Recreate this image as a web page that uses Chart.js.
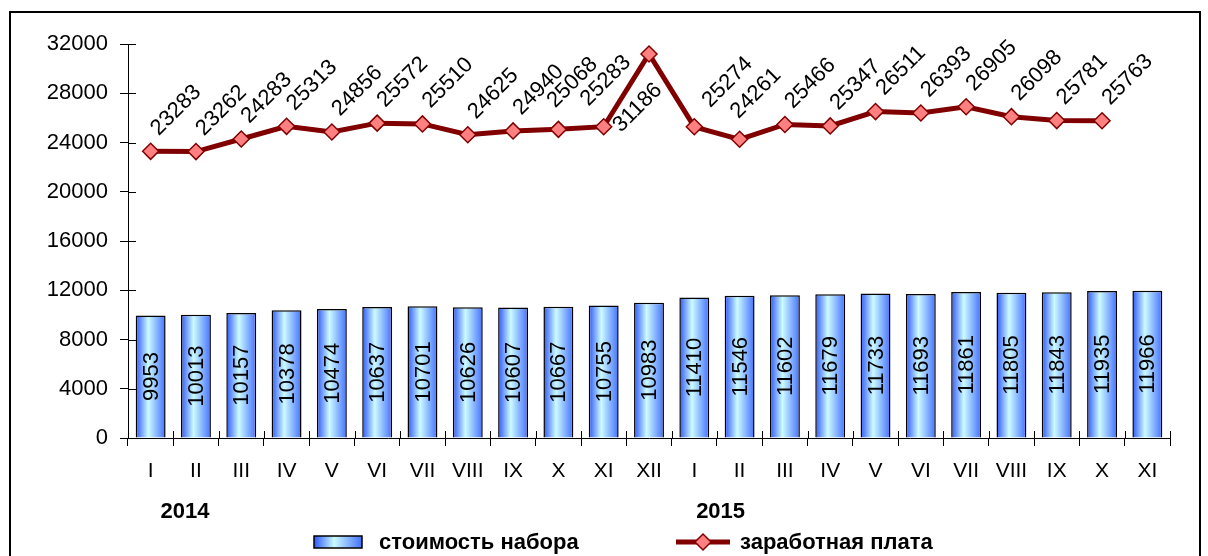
<!DOCTYPE html>
<html>
<head>
<meta charset="utf-8">
<script src="https://cdn.jsdelivr.net/npm/chart.js@4.4.0/dist/chart.umd.min.js"></script>
<style>
  body { margin: 0; background: #fff; }
</style>
</head>
<body>
<canvas id="myChart" width="1208" height="556"></canvas>
<script>
const months = ['I','II','III','IV','V','VI','VII','VIII','IX','X','XI','XII',
                'I','II','III','IV','V','VI','VII','VIII','IX','X','XI'];
const years = ['2014', '2015'];
const cost = [9953, 10013, 10157, 10378, 10474, 10637, 10701, 10626, 10607, 10667, 10755, 10983,
              11410, 11546, 11602, 11679, 11733, 11693, 11861, 11805, 11843, 11935, 11966];
const wage = [23283, 23262, 24283, 25313, 24856, 25572, 25510, 24625, 24940, 25068, 25283, 31186,
              25274, 24261, 25466, 25347, 26511, 26393, 26905, 26098, 25781, 25763, null];
const seriesNames = ['стоимость набора', 'заработная плата'];

const FONT = 'Arial, "Liberation Sans", sans-serif';
const BAR_PCT = 0.66;

function barGradient(c, x0, x1) {
  const g = c.createLinearGradient(x0, 0, x1, 0);
  g.addColorStop(0, '#2c55ff');
  g.addColorStop(0.42, '#ccfbff');
  g.addColorStop(1, '#4470ff');
  return g;
}

function barFill(context) {
  const chart = context.chart;
  const xs = chart.scales.x;
  if (!chart.chartArea || !xs) return '#9cc4ff';
  const center = xs.getPixelForValue(context.dataIndex);
  const half = xs.width / months.length * BAR_PCT / 2;
  return barGradient(chart.ctx, center - half, center + half);
}

function diamond(c, x, y, r) {
  c.beginPath();
  c.moveTo(x, y - r); c.lineTo(x + r, y); c.lineTo(x, y + r); c.lineTo(x - r, y);
  c.closePath();
  c.fillStyle = '#ff8080'; c.fill();
  c.lineWidth = 1.5; c.strokeStyle = '#800000'; c.stroke();
}

// where the slanted wage labels sit (in the rotated frame), a few were moved by hand
const labelNudge = { 9: [43, -23], 10: [34, -31], 11: [-46, 30], 12: [55, -8], 13: [44, -21] };

// value labels: vertical ones in the bars, slanted ones over the line
const valueLabels = {
  id: 'valueLabels',
  afterDatasetsDraw(chart) {
    const c = chart.ctx;
    c.save();
    c.font = '22px ' + FONT;
    c.fillStyle = '#000';
    c.textAlign = 'center';
    c.textBaseline = 'middle';
    chart.getDatasetMeta(1).data.forEach((bar, i) => {
      c.save();
      c.translate(bar.x, (bar.y + bar.base) / 2);
      c.rotate(-Math.PI / 2);
      c.fillText(cost[i], 0, 1);
      c.restore();
    });
    chart.getDatasetMeta(0).data.forEach((pt, i) => {
      if (wage[i] == null) return;
      const [dx, dy] = labelNudge[i] || [47, -11];
      c.save();
      c.translate(pt.x, pt.y);
      c.rotate(-Math.PI / 4);
      c.fillText(wage[i], dx, dy);
      c.restore();
    });
    c.restore();
  }
};

// frame, inner tick halves, year captions and legend
const decorations = {
  id: 'decorations',
  afterDraw(chart) {
    const c = chart.ctx;
    const area = chart.chartArea;
    const xs = chart.scales.x, ys = chart.scales.y;
    c.save();
    c.strokeStyle = '#000';
    c.lineWidth = 2;
    c.strokeRect(10, 12, 1190, 600);

    c.lineWidth = 1;
    c.beginPath();
    ys.ticks.forEach(t => {
      const y = Math.round(ys.getPixelForValue(t.value)) + 0.5;
      c.moveTo(area.left, y); c.lineTo(area.left + 8, y);
    });
    const step = xs.width / months.length;
    for (let i = 0; i <= months.length; i++) {
      const x = Math.round(area.left + i * step) + 0.5;
      c.moveTo(x, area.bottom); c.lineTo(x, area.bottom - 7);
    }
    c.stroke();

    c.fillStyle = '#000';
    c.font = 'bold 22px ' + FONT;
    c.textAlign = 'center';
    c.textBaseline = 'middle';
    c.fillText(years[0], xs.getPixelForValue(1) - 11, 512);
    c.fillText(years[1], xs.getPixelForValue(13) - 19, 512);

    // legend
    const ly = 542;
    c.fillStyle = barGradient(c, 314, 362);
    c.fillRect(314, ly - 6, 48, 12);
    c.lineWidth = 1.5;
    c.strokeRect(314, ly - 6, 48, 12);
    c.textAlign = 'left';
    c.fillStyle = '#000';
    c.fillText(seriesNames[0], 379, ly + 1);

    c.strokeStyle = '#800000';
    c.lineWidth = 5;
    c.beginPath(); c.moveTo(676, ly); c.lineTo(730, ly); c.stroke();
    diamond(c, 703, ly, 8);
    c.fillStyle = '#000';
    c.fillText(seriesNames[1], 740, ly + 1);
    c.restore();
  }
};

const ctx = document.getElementById('myChart').getContext('2d');
const myChart = new Chart(ctx, {
  data: {
    labels: months,
    datasets: [
      {
        type: 'line',
        label: seriesNames[1],
        data: wage,
        order: 0,
        borderColor: '#800000',
        borderWidth: 5,
        pointStyle: 'rectRot',
        pointRadius: 8,
        pointBackgroundColor: '#ff8080',
        pointBorderColor: '#800000',
        pointBorderWidth: 1.5,
        spanGaps: false,
        tension: 0
      },
      {
        type: 'bar',
        label: seriesNames[0],
        data: cost,
        order: 1,
        backgroundColor: barFill,
        borderColor: '#000',
        borderWidth: 1.5,
        barPercentage: BAR_PCT,
        categoryPercentage: 1
      }
    ]
  },
  options: {
    responsive: false,
    animation: false,
    layout: { padding: { left: 0, right: 38, top: 44, bottom: 0 } },
    plugins: {
      legend: { display: false },
      tooltip: { enabled: false }
    },
    scales: {
      x: {
        offset: true,
        grid: { offset: true, drawOnChartArea: false, tickLength: 8, color: '#000', tickColor: '#000' },
        border: { color: '#000', width: 1 },
        ticks: { color: '#000', font: { family: FONT, size: 21 }, padding: 13, maxRotation: 0, autoSkip: false },
        afterFit: s => { s.height = 118; }
      },
      y: {
        min: 0,
        max: 32000,
        grid: { drawOnChartArea: false, tickLength: 8, color: '#000', tickColor: '#000' },
        border: { color: '#000', width: 1 },
        ticks: { stepSize: 4000, color: '#000', font: { family: FONT, size: 22 }, padding: 12,
                 callback: v => String(v) },
        afterFit: s => { s.width = 128; }
      }
    }
  },
  plugins: [valueLabels, decorations]
});
</script>
</body>
</html>
